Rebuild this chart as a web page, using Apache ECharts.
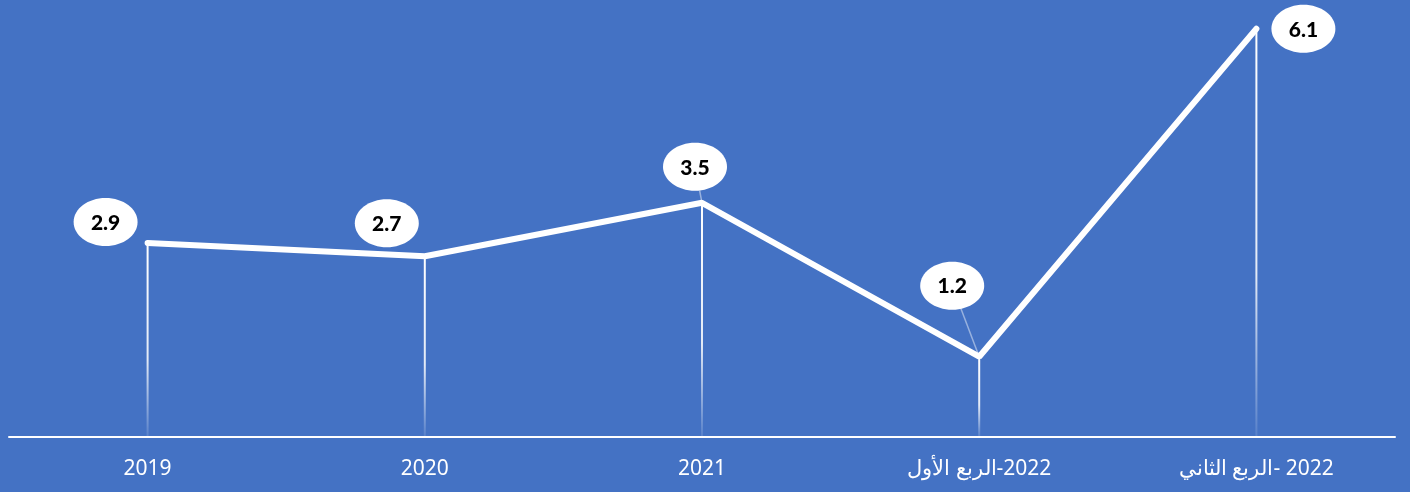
<!DOCTYPE html>
<html lang="ar">
<head>
  <meta charset="UTF-8">
  <title>Line chart</title>
  <script src="https://cdn.jsdelivr.net/npm/echarts@6/dist/echarts.min.js"></script>
  <style>
    html, body { margin: 0; padding: 0; background: #4472C4; }
    #chart { width: 1410px; height: 492px; }
  </style>
</head>
<body>
  <div id="chart"></div>
  <script>
    // data
    var categories = ['2019', '2020', '2021', '\u202B2022-الربع الأول\u202C', '\u202B2022 -الربع الثاني\u202C'];
    var values = [2.9, 2.7, 3.5, 1.2, 6.1];

    // where each bubble sits relative to its point (px)
    var labelOffsets = [[-42, -21], [-38, -33], [-7, -36], [-27, -71], [47, 0]];
    var showLeader = [false, false, true, true, false];

    var chart = echarts.init(document.getElementById('chart'));

    var option = {
      backgroundColor: '#4472C4',
      animation: false,
      grid: { left: 9, right: 15, top: 2, bottom: 55, containLabel: false },
      xAxis: {
        type: 'category',
        data: categories,
        boundaryGap: true,
        axisLine: { show: true, lineStyle: { color: '#ffffff', width: 2 } },
        axisTick: { show: false },
        axisLabel: {
          color: '#ffffff',
          fontSize: 21,
          fontFamily: 'Noto Sans',
          margin: 22
        },
        splitLine: { show: false }
      },
      yAxis: {
        type: 'value',
        min: 0,
        max: 6.5,
        show: false,
        splitLine: { show: false }
      },
      series: [
        {
          // drop lines from each point down to the axis
          type: 'bar',
          data: values,
          barWidth: 2,
          z: 1,
          itemStyle: {
            color: new echarts.graphic.LinearGradient(0, 0, 0, 1, [
              { offset: 0, color: 'rgba(255,255,255,1)' },
              { offset: 0.6, color: 'rgba(255,255,255,0.85)' },
              { offset: 1, color: 'rgba(255,255,255,0.1)' }
            ])
          }
        },
        {
          type: 'line',
          data: values,
          symbol: 'none',
          z: 3,
          lineStyle: { color: '#ffffff', width: 6, cap: 'round' }
        },
        {
          // white bubbles with the values
          type: 'custom',
          z: 5,
          data: values.map(function (v, i) { return [i, v]; }),
          renderItem: function (params, api) {
            var i = params.dataIndex;
            var p = api.coord([api.value(0), api.value(1)]);
            var off = labelOffsets[i];
            var cx = p[0] + off[0], cy = p[1] + off[1];
            var rx = 32, ry = 24;
            var kids = [];
            if (showLeader[i]) {
              var dx = p[0] - cx, dy = p[1] - cy;
              var t = 1 / Math.sqrt((dx * dx) / (rx * rx) + (dy * dy) / (ry * ry));
              kids.push({
                type: 'line',
                shape: { x1: cx + dx * t, y1: cy + dy * t, x2: p[0], y2: p[1] },
                style: { stroke: 'rgba(255,255,255,0.45)', lineWidth: 1.5 }
              });
            }
            kids.push({
              type: 'ellipse',
              shape: { cx: cx, cy: cy, rx: rx, ry: ry },
              style: { fill: '#ffffff' }
            });
            kids.push({
              type: 'text',
              style: {
                text: values[i].toFixed(1),
                x: cx,
                y: cy + 1,
                align: 'center',
                verticalAlign: 'middle',
                font: '900 21px Lato',
                fill: '#000000'
              }
            });
            return { type: 'group', children: kids };
          }
        }
      ]
    };

    chart.setOption(option);
  </script>
</body>
</html>
